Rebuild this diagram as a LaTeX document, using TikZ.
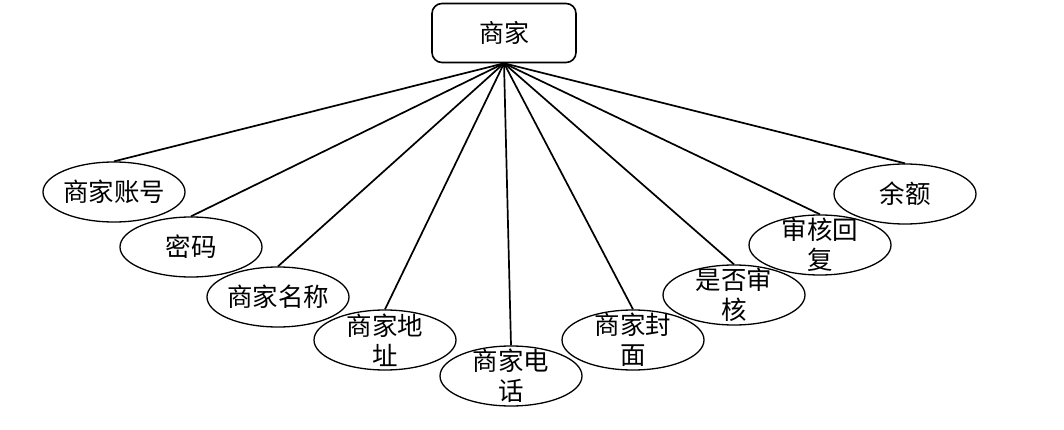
\documentclass[tikz,border=0pt]{standalone}
\usepackage{fontspec}
\newfontfamily\cjk{Noto Sans CJK SC}
\usetikzlibrary{shapes.geometric}
\tikzset{
  entity/.style={draw, line width=1.6pt, rounded corners=10pt, minimum width=144pt, minimum height=59pt, font=\cjk\fontsize{25}{30}\selectfont},
  attr/.style={draw, line width=1.3pt, ellipse, minimum width=142pt, minimum height=60pt, inner xsep=-4pt, inner ysep=-12pt, align=center, font=\cjk\fontsize{25.5}{30}\selectfont},
  link/.style={line width=1.7pt}
}
\begin{document}
\begin{tikzpicture}[x=1pt, y=-1pt]
      \useasboundingbox (0,0) rectangle (1064,430);
      \node[entity] (shop) at (504,33) {商家};

      \node[attr] (account) at (114,192) {商家账号};
      \node[attr] (pwd) at (191,247) {密码};
      \node[attr] (name) at (278,297) {商家名称};
      \node[attr] (addr) at (385,340) {商家地\\址};
      \node[attr] (phone) at (511,376) {商家电\\话};
      \node[attr] (cover) at (633,340) {商家封\\面};
      \node[attr] (audit) at (734,295) {是否审\\核};
      \node[attr] (reply) at (820,245) {审核回\\复};
      \node[attr] (balance) at (905,194) {余额};

      \foreach \n in {account,pwd,name,addr,phone,cover,audit,reply,balance}
        \draw[link] (shop.south) -- (\n.north);
    \end{tikzpicture}
\end{document}
